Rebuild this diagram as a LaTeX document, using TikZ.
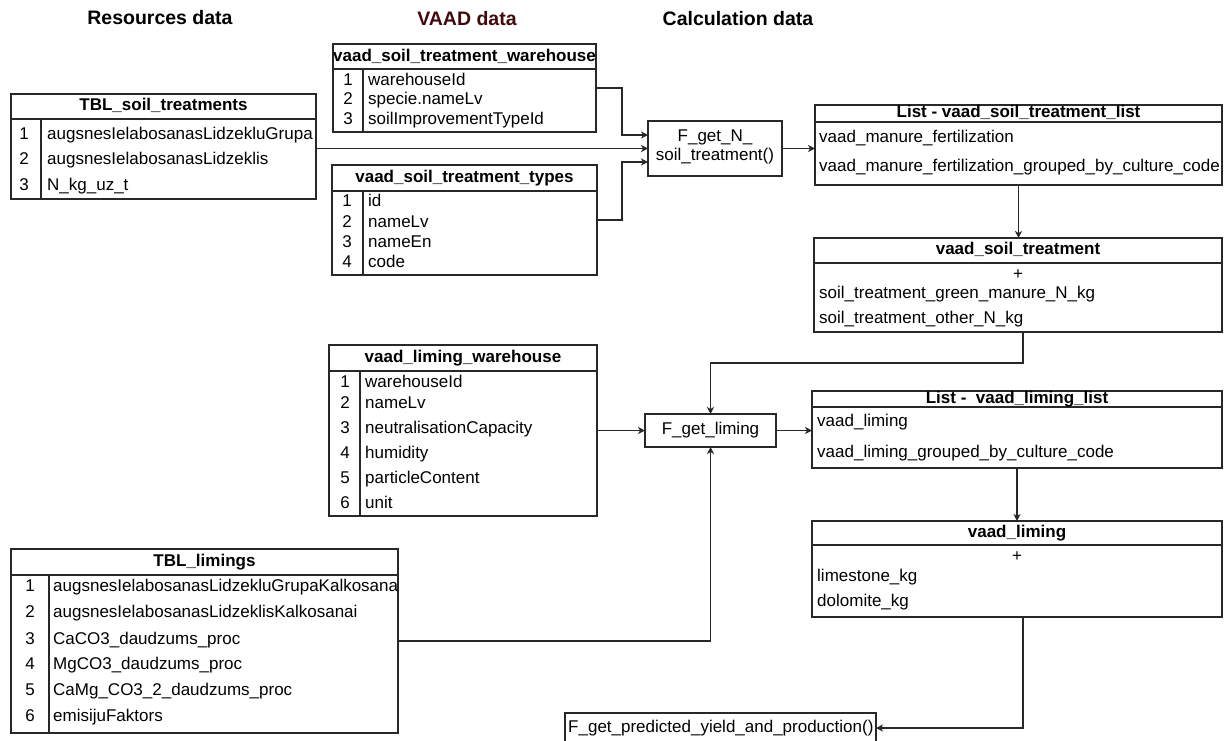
\documentclass[tikz,border=0pt]{standalone}
\usepackage{fontspec}
\setmainfont{Liberation Sans}
\usetikzlibrary{arrows.meta,calc}
\definecolor{linec}{RGB}{40,40,40}
\definecolor{vaadc}{RGB}{66,10,10}
\newcommand\fs{\fontsize{17}{18}\selectfont}
\newcommand\fstitle{\fontsize{19.5}{22}\selectfont\bfseries}
\tikzset{
  ln/.style={draw=linec, line width=1.3pt},
  arr/.style={ln, -{Stealth[length=7pt,width=7pt,inset=2pt]}},
  tbox/.style={ln, anchor=north west, inner sep=0pt, outer sep=0pt, fill=white},
  fbox/.style={ln, anchor=north west, inner sep=0pt, outer sep=0pt, fill=white},
  txt/.style={font=\fs, anchor=west, inner sep=0pt, text height=12pt, text depth=3.5pt},
  num/.style={font=\fs, inner sep=0pt, text height=12pt, text depth=3.5pt},
  hdr/.style={font=\fs\bfseries, inner sep=0pt, text height=12pt, text depth=3.5pt},
  ttl/.style={font=\fstitle, inner sep=0pt, text height=14pt, text depth=4pt},
}
\begin{document}
\begin{tikzpicture}[x=1pt,y=-1pt]
\useasboundingbox (0,0) rectangle (1225,740);
\clip (0,0) rectangle (1225,740);
\fill[white] (0,0) rectangle (1225,740);

% titles
\node[ttl] (t1) at (160,19) {Resources data};
\node[ttl, text=vaadc] (t2) at (467,20) {VAAD data};
\node[ttl] (t3) at (738,20) {Calculation data};

% TBL_soil_treatments
\node[tbox, minimum width=305pt, minimum height=105pt] (tst) at (11,94) {};
\draw[ln] ([yshift=-25pt]tst.north west) -- ([yshift=-25pt]tst.north east);
\draw[ln] ([xshift=30pt,yshift=-25pt]tst.north west) -- ([xshift=30pt]tst.south west);
\node[hdr] (tsth) at (163.5,106.5) {TBL\_soil\_treatments};
\node[num] (tstn1) at (24,135) {1};
\node[num] (tstn2) at (24,160) {2};
\node[num] (tstn3) at (24,186) {3};
\node[txt] (tstr1) at (47,135) {augsnesIelabosanasLidzekluGrupa};
\node[txt] (tstr2) at (47,160) {augsnesIelabosanasLidzeklis};
\node[txt] (tstr3) at (47,186) {N\_kg\_uz\_t};

% vaad_soil_treatment_warehouse
\node[tbox, minimum width=263pt, minimum height=88pt] (stw) at (333,44) {};
\draw[ln] ([yshift=-25pt]stw.north west) -- ([yshift=-25pt]stw.north east);
\draw[ln] ([xshift=30pt,yshift=-25pt]stw.north west) -- ([xshift=30pt]stw.south west);
\node[hdr] (stwh) at (464.5,57) {vaad\_soil\_treatment\_warehouse};
\node[num] (stwn1) at (348,81) {1};
\node[num] (stwn2) at (348,100) {2};
\node[num] (stwn3) at (348,120) {3};
\node[txt] (stwr1) at (368,81) {warehouseId};
\node[txt] (stwr2) at (368,100) {specie.nameLv};
\node[txt] (stwr3) at (368,120) {soilImprovementTypeId};

% vaad_soil_treatment_types
\node[tbox, minimum width=265pt, minimum height=110pt] (stt) at (332,165) {};
\draw[ln] ([yshift=-26pt]stt.north west) -- ([yshift=-26pt]stt.north east);
\draw[ln] ([xshift=31pt,yshift=-26pt]stt.north west) -- ([xshift=31pt]stt.south west);
\node[hdr] (stth) at (464.5,178) {vaad\_soil\_treatment\_types};
\node[num] (sttn1) at (347,202) {1};
\node[num] (sttn2) at (347,223) {2};
\node[num] (sttn3) at (347,243) {3};
\node[num] (sttn4) at (347,263) {4};
\node[txt] (sttr1) at (368,202) {id};
\node[txt] (sttr2) at (368,223) {nameLv};
\node[txt] (sttr3) at (368,243) {nameEn};
\node[txt] (sttr4) at (368,263) {code};

% F_get_N_soil_treatment
\node[fbox, minimum width=134pt, minimum height=55pt] (fgn) at (648,121) {};
\node[num] (fgnt1) at (715,137) {F\_get\_N\_};
\node[num] (fgnt2) at (715,156) {soil\_treatment()};

% List - vaad_soil_treatment_list
\node[tbox, minimum width=407pt, minimum height=80pt] (lst) at (815,105) {};
\draw[ln] ([yshift=-17pt]lst.north west) -- ([yshift=-17pt]lst.north east);
\node[hdr] (lsth) at (1018.5,113) {List - vaad\_soil\_treatment\_list};
\node[txt] (lstr1) at (819,138) {vaad\_manure\_fertilization};
\node[txt] (lstr2) at (819,167) {vaad\_manure\_fertilization\_grouped\_by\_culture\_code};

% vaad_soil_treatment
\node[tbox, minimum width=408pt, minimum height=94pt] (vst) at (814,238) {};
\draw[ln] ([yshift=-25pt]vst.north west) -- ([yshift=-25pt]vst.north east);
\node[hdr] (vsth) at (1018,250.5) {vaad\_soil\_treatment};
\node[num] (vstp) at (1018,275) {+};
\node[txt] (vstr1) at (819,294) {soil\_treatment\_green\_manure\_N\_kg};
\node[txt] (vstr2) at (819,319) {soil\_treatment\_other\_N\_kg};

% vaad_liming_warehouse
\node[tbox, minimum width=268pt, minimum height=171pt] (lwh) at (329,345) {};
\draw[ln] ([yshift=-26pt]lwh.north west) -- ([yshift=-26pt]lwh.north east);
\draw[ln] ([xshift=31pt,yshift=-26pt]lwh.north west) -- ([xshift=31pt]lwh.south west);
\node[hdr] (lwhh) at (463,358) {vaad\_liming\_warehouse};
\node[num] (lwhn1) at (345,383) {1};
\node[num] (lwhn2) at (345,404) {2};
\node[num] (lwhn3) at (345,429) {3};
\node[num] (lwhn4) at (345,454) {4};
\node[num] (lwhn5) at (345,479) {5};
\node[num] (lwhn6) at (345,504) {6};
\node[txt] (lwhr1) at (365,383) {warehouseId};
\node[txt] (lwhr2) at (365,404) {nameLv};
\node[txt] (lwhr3) at (365,429) {neutralisationCapacity};
\node[txt] (lwhr4) at (365,454) {humidity};
\node[txt] (lwhr5) at (365,479) {particleContent};
\node[txt] (lwhr6) at (365,504) {unit};

% F_get_liming
\node[fbox, minimum width=131pt, minimum height=33pt] (fgl) at (645,414) {};
\node[num] (fglt) at (710.5,430.5) {F\_get\_liming};

% List - vaad_liming_list
\node[tbox, minimum width=410pt, minimum height=77pt] (lll) at (812,391) {};
\draw[ln] ([yshift=-16pt]lll.north west) -- ([yshift=-16pt]lll.north east);
\node[hdr] (lllh) at (1017,399) {List -\ \ vaad\_liming\_list};
\node[txt] (lllr1) at (817,422) {vaad\_liming};
\node[txt] (lllr2) at (817,453) {vaad\_liming\_grouped\_by\_culture\_code};

% vaad_liming
\node[tbox, minimum width=410pt, minimum height=96pt] (vli) at (812,521) {};
\draw[ln] ([yshift=-24pt]vli.north west) -- ([yshift=-24pt]vli.north east);
\node[hdr] (vlih) at (1017,533) {vaad\_liming};
\node[num] (vlip) at (1017,557) {+};
\node[txt] (vlir1) at (817,577) {limestone\_kg};
\node[txt] (vlir2) at (817,602) {dolomite\_kg};

% TBL_limings
\node[tbox, minimum width=387pt, minimum height=184pt] (tli) at (11,549) {};
\draw[ln] ([yshift=-26pt]tli.north west) -- ([yshift=-26pt]tli.north east);
\draw[ln] ([xshift=38pt,yshift=-26pt]tli.north west) -- ([xshift=38pt]tli.south west);
\node[hdr] (tlih) at (204.5,562) {TBL\_limings};
\node[num] (tlin1) at (30,587) {1};
\node[num] (tlin2) at (30,613) {2};
\node[num] (tlin3) at (30,640) {3};
\node[num] (tlin4) at (30,665) {4};
\node[num] (tlin5) at (30,691) {5};
\node[num] (tlin6) at (30,717) {6};
\node[txt] (tlir1) at (53,587) {augsnesIelabosanasLidzekluGrupaKalkosana};
\node[txt] (tlir2) at (53,613) {augsnesIelabosanasLidzeklisKalkosanai};
\node[txt] (tlir3) at (53,640) {CaCO3\_daudzums\_proc};
\node[txt] (tlir4) at (53,665) {MgCO3\_daudzums\_proc};
\node[txt] (tlir5) at (53,691) {CaMg\_CO3\_2\_daudzums\_proc};
\node[txt] (tlir6) at (53,717) {emisijuFaktors};

% F_get_predicted_yield_and_production()
\node[fbox, minimum width=311pt, minimum height=30pt] (fgp) at (565,713) {};
\node[txt] (fgpt) at (568,728) {F\_get\_predicted\_yield\_and\_production()};

% connectors
\draw[arr] (stw.east) -- ++(26,0) |- ([yshift=13.5pt]fgn.west);
\draw[arr] (tst.east |- fgn.west) -- (fgn.west);
\draw[arr] (stt.east) -- ++(25,0) |- ([yshift=-13.5pt]fgn.west);
\draw[arr] (fgn.east) -- (fgn.east -| lst.west);
\draw[arr] (lst.south) -- (lst.south |- vst.north);
\draw[arr] ([xshift=5pt]vst.south) -- ++(0,31) -| (fgl.north);
\draw[arr] (lwh.east) -- (lwh.east -| fgl.west);
\draw[arr] (fgl.east) -- (fgl.east -| lll.west);
\draw[arr] (lll.south) -- (lll.south |- vli.north);
\draw[arr] ([xshift=6pt]vli.south) |- (fgp.east);
\draw[arr] (tli.east) -| (fgl.south);
\end{tikzpicture}
\end{document}
